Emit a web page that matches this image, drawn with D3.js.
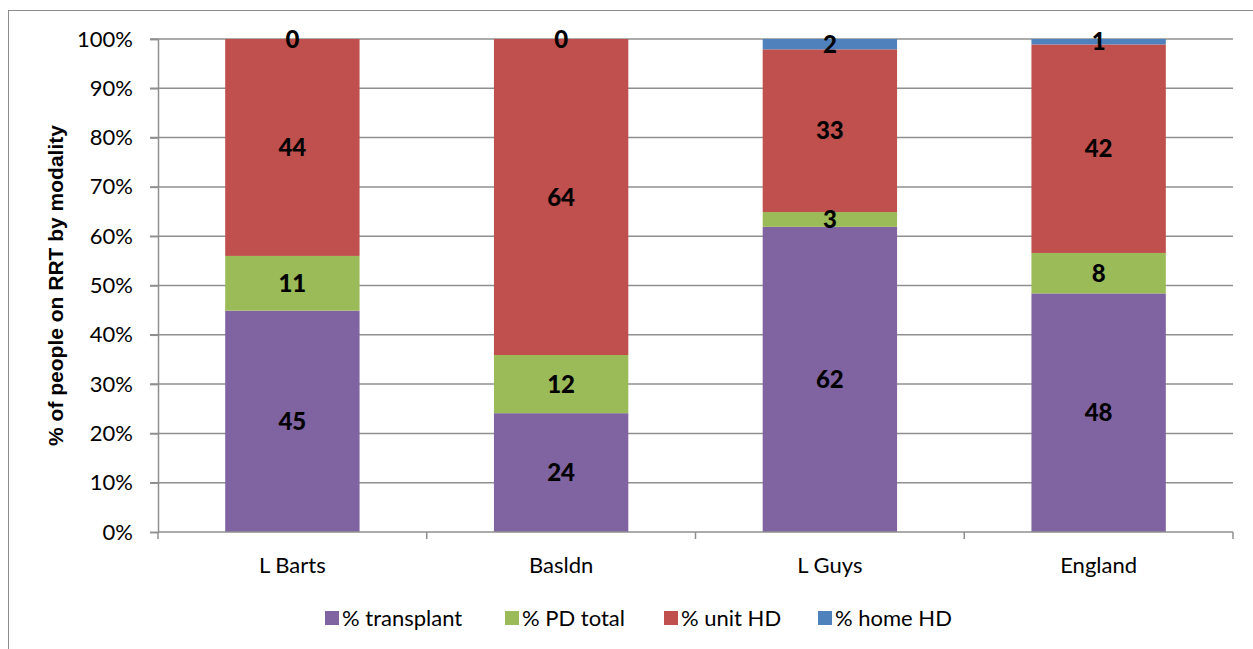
<!DOCTYPE html>
<html>
<head>
<meta charset="utf-8">
<script src="https://cdn.jsdelivr.net/npm/d3@7"></script>
<style>
  html, body { margin: 0; padding: 0; background: #fff; }
  svg { display: block; }
</style>
</head>
<body>
<svg id="chart" width="1253" height="649"></svg>
<script>
const categories = ["L Barts", "Basldn", "L Guys", "England"];
const seriesNames = ["% transplant", "% PD total", "% unit HD", "% home HD"];
const transplant = [44.9, 24.1, 61.9, 48.4];
const pdTotal    = [11.1, 11.8, 3.0, 8.2];
const unitHD     = [44.0, 64.1, 33.0, 42.3];
const homeHD     = [0.0, 0.0, 2.1, 1.1];
const yTicks = [0, 10, 20, 30, 40, 50, 60, 70, 80, 90, 100];
const colors = ["#8064A2", "#9BBB59", "#C0504D", "#4F81BD"];

const seriesValues = [transplant, pdTotal, unitHD, homeHD];
const rows = categories.map((c, i) => {
  const r = { cat: c };
  seriesNames.forEach((s, j) => r[s] = seriesValues[j][i]);
  return r;
});

const svg = d3.select("#chart");
const font = "Lato, 'Open Sans', sans-serif";
const margin = { left: 158, right: 1253 - 1233, top: 39, bottom: 649 - 532 };
const W = 1253, H = 649;

// outer frame
svg.append("rect").attr("x", 8.5).attr("y", 10.5).attr("width", 1300).attr("height", 800)
  .attr("fill", "none").attr("stroke", "#8c8c8c").attr("stroke-width", 1);

const x = d3.scaleBand().domain(categories).range([margin.left, W - margin.right])
  .paddingInner(0.5).paddingOuter(0.25);
const y = d3.scaleLinear().domain([0, 100]).range([H - margin.bottom, margin.top]);

// gridlines
svg.append("g").selectAll("line").data(yTicks.filter(d => d > 0)).join("line")
  .attr("x1", margin.left - 8).attr("x2", W - margin.right)
  .attr("y1", d => y(d)).attr("y2", d => y(d))
  .attr("stroke", "#8f8f8f").attr("stroke-width", 1.5);

// stacked bars
const stack = d3.stack().keys(seriesNames);
const stacked = stack(rows);
const gBars = svg.append("g");
stacked.forEach((layer, j) => {
  gBars.append("g").attr("fill", colors[j]).selectAll("rect").data(layer).join("rect")
    .attr("x", d => x(d.data.cat))
    .attr("width", x.bandwidth())
    .attr("y", d => y(d[1]))
    .attr("height", d => y(d[0]) - y(d[1]));
});

// data labels
const fmt = d3.format(".0f");
stacked.forEach((layer, j) => {
  svg.append("g").selectAll("text").data(layer).join("text")
    .attr("x", d => x(d.data.cat) + x.bandwidth() / 2)
    .attr("y", d => (y(d[0]) + y(d[1])) / 2)
    .attr("dy", "0.36em")
    .attr("text-anchor", "middle")
    .attr("font-family", font).attr("font-weight", 900).attr("font-size", 24)
    .attr("fill", "#000")
    .text(d => fmt(d.data[layer.key]));
});

// y axis
const yAxis = d3.axisLeft(y).tickValues(yTicks).tickSize(8).tickPadding(17)
  .tickFormat(d => d + "%");
const gy = svg.append("g").attr("transform", `translate(${margin.left},0)`).call(yAxis);
gy.select(".domain").attr("stroke", "#8f8f8f").attr("stroke-width", 1.5);
gy.selectAll(".tick line").attr("stroke", "#8f8f8f").attr("stroke-width", 1.5);
gy.selectAll(".tick text").attr("font-family", font).attr("font-size", 22).attr("fill", "#000");

// x axis
const xb = y(0);
const gx = svg.append("g");
gx.append("line").attr("x1", margin.left).attr("x2", W - margin.right)
  .attr("y1", xb).attr("y2", xb).attr("stroke", "#8f8f8f").attr("stroke-width", 1.5);
const step = x.step();
const boundaries = [0, 1, 2, 3, 4].map(i => margin.left + i * step);
gx.selectAll("line.tk").data(boundaries).join("line").attr("class", "tk")
  .attr("x1", d => d).attr("x2", d => d).attr("y1", xb).attr("y2", xb + 7)
  .attr("stroke", "#8f8f8f").attr("stroke-width", 1.5);
gx.selectAll("text").data(categories).join("text")
  .attr("x", d => x(d) + x.bandwidth() / 2).attr("y", 573)
  .attr("text-anchor", "middle")
  .attr("font-family", font).attr("font-size", 22).attr("fill", "#000")
  .text(d => d);

// y title
svg.append("text")
  .attr("transform", `translate(63,${(y(0) + y(100)) / 2}) rotate(-90)`)
  .attr("text-anchor", "middle")
  .attr("font-family", "'Liberation Sans', Arial, sans-serif").attr("font-weight", "bold")
  .attr("font-size", 21).attr("fill", "#000")
  .text("% of people on RRT by modality");

// legend
const legendX = [325, 505, 664, 818];
const lg = svg.append("g");
seriesNames.forEach((s, j) => {
  lg.append("rect").attr("x", legendX[j]).attr("y", 611).attr("width", 14).attr("height", 14)
    .attr("fill", colors[j]);
  lg.append("text").attr("x", legendX[j] + 17).attr("y", 626)
    .attr("font-family", font).attr("font-size", 22).attr("fill", "#000")
    .text(s);
});
</script>
</body>
</html>
